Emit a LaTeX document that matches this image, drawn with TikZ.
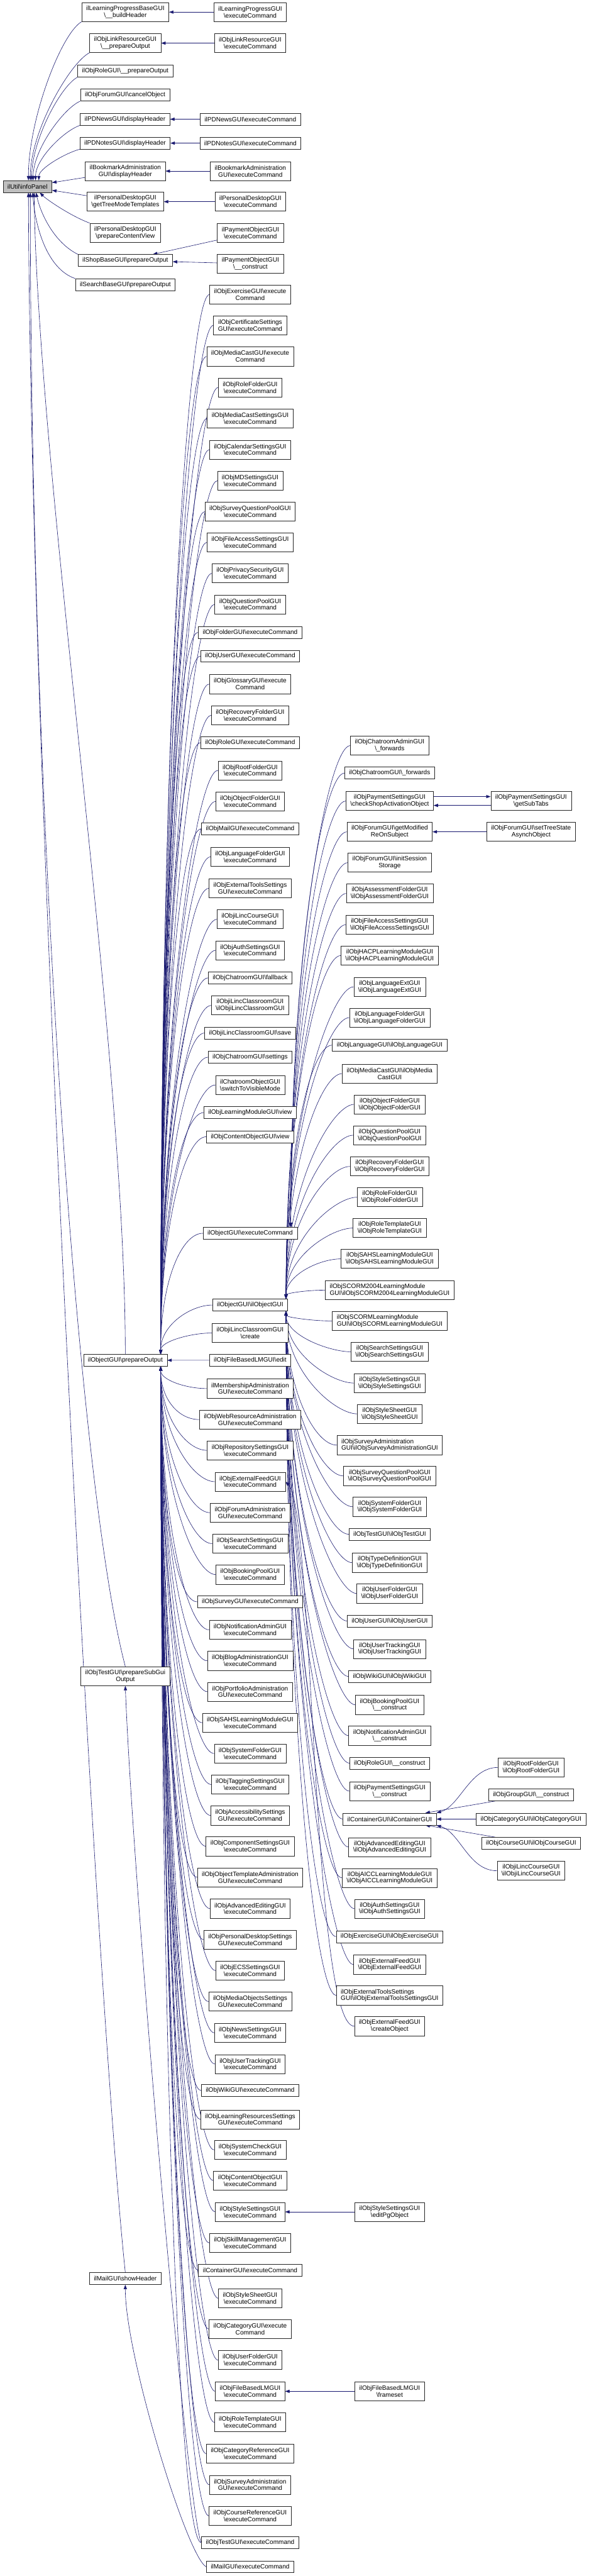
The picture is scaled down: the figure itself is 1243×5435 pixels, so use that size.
\documentclass[tikz,border=0pt]{standalone}
\usepackage{fontspec}
\setmainfont{Liberation Sans}
\usetikzlibrary{arrows.meta,calc}
\definecolor{edgeblue}{HTML}{191970}
\definecolor{rootgray}{HTML}{BFBFBF}
\newcommand{\bsl}{\textbackslash}
\newcommand{\fnfont}{\fontsize{10}{10.8}\selectfont}
\pgfdeclarelayer{bg}
\pgfdeclarelayer{edges}
\pgfsetlayers{bg,edges,main}
\tikzset{
  fn/.style={draw=black!85, fill=white, font=\fnfont, align=center,
    inner xsep=7pt, inner ysep=2pt, minimum height=18.75pt, line width=0.6pt},
  fn2/.style={fn, minimum height=30pt},
  fnl/.style={fn2, align=left},
  edge/.style={->, draw=edgeblue, line width=0.6pt}
}

\begin{document}
\begin{tikzpicture}[x=0.75pt, y=-0.75pt, >={Triangle[length=7pt,width=5pt]}]
  \begin{pgfonlayer}{bg}
    \fill[white] (0,0) rectangle (1243,5435);
  \end{pgfonlayer}
  \useasboundingbox (0,0) rectangle (1243,5435);
  % Root
  \node[fn, fill=rootgray] (info) at (58,393.5) {ilUtil\bsl infoPanel};
  % Direct callers
  \node[fn2] (lpbase) at (264.5,25.5) {ilLearningProgressBaseGUI\\\bsl\_\_buildHeader};
  \node[fn2] (linkpo) at (264.5,91) {ilObjLinkResourceGUI\\\bsl\_\_prepareOutput};
  \node[fn] (rolepo) at (264.5,150) {ilObjRoleGUI\bsl\_\_prepareOutput};
  \node[fn] (forumco) at (264,200.5) {ilObjForumGUI\bsl cancelObject};
  \node[fn] (pdnewsdh) at (264,251.5) {ilPDNewsGUI\bsl displayHeader};
  \node[fn] (pdnotesdh) at (264,302) {ilPDNotesGUI\bsl displayHeader};
  \node[fn2] (bookdh) at (264.5,361) {ilBookmarkAdministration\\GUI\bsl displayHeader};
  \node[fn2] (pdtree) at (264.5,425.5) {ilPersonalDesktopGUI\\\bsl getTreeModeTemplates};
  \node[fn2] (pdcontent) at (264.5,491) {ilPersonalDesktopGUI\\\bsl prepareContentView};
  \node[fn] (shop) at (264.5,549.5) {ilShopBaseGUI\bsl prepareOutput};
  \node[fn] (search) at (264.5,600.5) {ilSearchBaseGUI\bsl prepareOutput};
  \node[fn] (pout) at (264.5,2870) {ilObjectGUI\bsl prepareOutput};
  \node[fn2] (tsub) at (264.5,3536.5) {ilObjTestGUI\bsl prepareSubGui\\Output};
  \node[fn] (mhead) at (264.5,4807.5) {ilMailGUI\bsl showHeader};
  % Second level, top group
  \node[fn2] (lpgui) at (528,25.5) {ilLearningProgressGUI\\\bsl executeCommand};
  \node[fn2] (linkexec) at (528,91) {ilObjLinkResourceGUI\\\bsl executeCommand};
  \node[fn] (pdnewsexec) at (528.5,251.5) {ilPDNewsGUI\bsl executeCommand};
  \node[fn] (pdnotesexec) at (528.5,302) {ilPDNotesGUI\bsl executeCommand};
  \node[fn2] (bookexec) at (528.5,361) {ilBookmarkAdministration\\GUI\bsl executeCommand};
  \node[fn2] (pdexec) at (528.5,425.5) {ilPersonalDesktopGUI\\\bsl executeCommand};
  \node[fn2] (payexec) at (528.5,491) {ilPaymentObjectGUI\\\bsl executeCommand};
  \node[fn2] (paycon) at (528.5,556.5) {ilPaymentObjectGUI\\\bsl\_\_construct};
  % Second level, callers of prepareOutput
  \node[fn2] (exer) at (528,621.4) {ilObjExerciseGUI\bsl execute\\Command};
  \node[fn2] (cert) at (528,686.4) {ilObjCertificateSettings\\GUI\bsl executeCommand};
  \node[fn2] (mcast) at (528,752.1) {ilObjMediaCastGUI\bsl execute\\Command};
  \node[fn2] (rolef) at (528,817.5) {ilObjRoleFolderGUI\\\bsl executeCommand};
  \node[fn2] (mcset) at (528,882.9) {ilObjMediaCastSettingsGUI\\\bsl executeCommand};
  \node[fn2] (cal) at (528,948.6) {ilObjCalendarSettingsGUI\\\bsl executeCommand};
  \node[fn2] (md) at (528,1014.4) {ilObjMDSettingsGUI\\\bsl executeCommand};
  \node[fn2] (sqp) at (528,1079.4) {ilObjSurveyQuestionPoolGUI\\\bsl executeCommand};
  \node[fn2] (fas) at (528,1144.3) {ilObjFileAccessSettingsGUI\\\bsl executeCommand};
  \node[fn2] (priv) at (528,1209.7) {ilObjPrivacySecurityGUI\\\bsl executeCommand};
  \node[fn2] (qp) at (528,1275.1) {ilObjQuestionPoolGUI\\\bsl executeCommand};
  \node[fn] (fold) at (528,1334.1) {ilObjFolderGUI\bsl executeCommand};
  \node[fn] (user) at (528,1384.3) {ilObjUserGUI\bsl executeCommand};
  \node[fn2] (gloss) at (528,1443.3) {ilObjGlossaryGUI\bsl execute\\Command};
  \node[fn2] (recov) at (528,1509.1) {ilObjRecoveryFolderGUI\\\bsl executeCommand};
  \node[fn] (role) at (528,1566.8) {ilObjRoleGUI\bsl executeCommand};
  \node[fn2] (root) at (528,1625.4) {ilObjRootFolderGUI\\\bsl executeCommand};
  \node[fn2] (objf) at (528,1690.8) {ilObjObjectFolderGUI\\\bsl executeCommand};
  \node[fn] (mail) at (528,1748.6) {ilObjMailGUI\bsl executeCommand};
  \node[fn2] (langf) at (528,1807.6) {ilObjLanguageFolderGUI\\\bsl executeCommand};
  \node[fn2] (ext) at (528,1874.1) {ilObjExternalToolsSettings\\GUI\bsl executeCommand};
  \node[fn2] (ilcc) at (528,1939.5) {ilObjiLincCourseGUI\\\bsl executeCommand};
  \node[fn2] (auth) at (528,2004.9) {ilObjAuthSettingsGUI\\\bsl executeCommand};
  \node[fn] (chfb) at (528,2063.1) {ilObjChatroomGUI\bsl fallback};
  \node[fn2] (ilcl) at (528,2121.3) {ilObjiLincClassroomGUI\\\bsl ilObjiLincClassroomGUI};
  \node[fn] (ilsave) at (528,2179.5) {ilObjiLincClassroomGUI\bsl save};
  \node[fn] (chset) at (528,2230.5) {ilObjChatroomGUI\bsl settings};
  \node[fn2] (chvis) at (528,2289.1) {ilChatroomObjectGUI\\\bsl switchToVisibleMode};
  \node[fn] (lmview) at (528,2347.3) {ilObjLearningModuleGUI\bsl view};
  \node[fn] (coview) at (528,2398.3) {ilObjContentObjectGUI\bsl view};
  \node[fn] (oexec) at (528,2602) {ilObjectGUI\bsl executeCommand};
  \node[fn] (octor) at (528,2753.4) {ilObjectGUI\bsl ilObjectGUI};
  \node[fn2] (ilcreate) at (528,2812.4) {ilObjiLincClassroomGUI\\\bsl create};
  \node[fn] (fbedit) at (528,2869.8) {ilObjFileBasedLMGUI\bsl edit};
  \node[fn2] (memb) at (528,2929.6) {ilMembershipAdministration\\GUI\bsl executeCommand};
  \node[fn2] (webres) at (528,2995) {ilObjWebResourceAdministration\\GUI\bsl executeCommand};
  \node[fn2] (repo) at (528,3060) {ilObjRepositorySettingsGUI\\\bsl executeCommand};
  \node[fn2] (efexec) at (528,3126.1) {ilObjExternalFeedGUI\\\bsl executeCommand};
  \node[fn2] (forad) at (528,3191.5) {ilObjForumAdministration\\GUI\bsl executeCommand};
  \node[fn2] (srchset) at (528,3256.8) {ilObjSearchSettingsGUI\\\bsl executeCommand};
  \node[fn2] (book) at (528,3322.2) {ilObjBookingPoolGUI\\\bsl executeCommand};
  \node[fn] (survey) at (528,3379.6) {ilObjSurveyGUI\bsl executeCommand};
  \node[fn2] (notif) at (528,3438.6) {ilObjNotificationAdminGUI\\\bsl executeCommand};
  \node[fn2] (blog) at (528,3504) {ilObjBlogAdministrationGUI\\\bsl executeCommand};
  \node[fn2] (portf) at (528,3569.3) {ilObjPortfolioAdministration\\GUI\bsl executeCommand};
  \node[fn2] (sahs) at (528,3634.7) {ilObjSAHSLearningModuleGUI\\\bsl executeCommand};
  \node[fn2] (sysf) at (528,3699.7) {ilObjSystemFolderGUI\\\bsl executeCommand};
  \node[fn2] (tag) at (528,3765) {ilObjTaggingSettingsGUI\\\bsl executeCommand};
  \node[fn2] (acc) at (528,3830.4) {ilObjAccessibilitySettings\\GUI\bsl executeCommand};
  \node[fn2] (comp) at (528,3895.4) {ilObjComponentSettingsGUI\\\bsl executeCommand};
  \node[fn2] (otpl) at (528,3960.8) {ilObjObjectTemplateAdministration\\GUI\bsl executeCommand};
  \node[fn2] (adved) at (528,4026.9) {ilObjAdvancedEditingGUI\\\bsl executeCommand};
  \node[fn2] (pdset) at (528,4092.3) {ilObjPersonalDesktopSettings\\GUI\bsl executeCommand};
  \node[fn2] (ecs) at (528,4157.7) {ilObjECSSettingsGUI\\\bsl executeCommand};
  \node[fn2] (mob) at (528,4223) {ilObjMediaObjectsSettings\\GUI\bsl executeCommand};
  \node[fn2] (news) at (528,4289) {ilObjNewsSettingsGUI\\\bsl executeCommand};
  \node[fn2] (utrack) at (528,4354.8) {ilObjUserTrackingGUI\\\bsl executeCommand};
  \node[fn] (wiki) at (528,4410.7) {ilObjWikiGUI\bsl executeCommand};
  \node[fn2] (lres) at (528,4471.5) {ilObjLearningResourcesSettings\\GUI\bsl executeCommand};
  \node[fn2] (syscheck) at (528,4536) {ilObjSystemCheckGUI\\\bsl executeCommand};
  \node[fn2] (coexec) at (528,4600.8) {ilObjContentObjectGUI\\\bsl executeCommand};
  \node[fn2] (styexec) at (528,4666.7) {ilObjStyleSettingsGUI\\\bsl executeCommand};
  \node[fn2] (skill) at (528,4732.3) {ilObjSkillManagementGUI\\\bsl executeCommand};
  \node[fn] (contexec) at (528,4790.1) {ilContainerGUI\bsl executeCommand};
  \node[fn2] (sheet) at (528,4849) {ilObjStyleSheetGUI\\\bsl executeCommand};
  \node[fn2] (cat) at (528,4913.8) {ilObjCategoryGUI\bsl execute\\Command};
  \node[fn2] (ufold) at (528,4979.4) {ilObjUserFolderGUI\\\bsl executeCommand};
  \node[fn2] (fbexec) at (528,5045.3) {ilObjFileBasedLMGUI\\\bsl executeCommand};
  \node[fn2] (rtpl) at (528,5110.5) {ilObjRoleTemplateGUI\\\bsl executeCommand};
  \node[fn2] (catref) at (528,5176.8) {ilObjCategoryReferenceGUI\\\bsl executeCommand};
  \node[fn2] (surad) at (528,5242.4) {ilObjSurveyAdministration\\GUI\bsl executeCommand};
  \node[fn2] (crsref) at (528,5307.9) {ilObjCourseReferenceGUI\\\bsl executeCommand};
  \node[fn] (testexec) at (528,5364.6) {ilObjTestGUI\bsl executeCommand};
  \node[fn] (mailexec) at (528,5415.5) {ilMailGUI\bsl executeCommand};
  % Third level
  \node[fn2] (chadm) at (822.5,1573) {ilObjChatroomAdminGUI\\\bsl\_forwards};
  \node[fn] (chfw) at (822.5,1631) {ilObjChatroomGUI\bsl\_forwards};
  \node[fn2] (psc) at (822.5,1690) {ilObjPaymentSettingsGUI\\\bsl checkShopActivationObject};
  \node[fn2] (fgm) at (822.5,1755) {ilObjForumGUI\bsl getModified\\ReOnSubject};
  \node[fn2] (fis) at (822.5,1820) {ilObjForumGUI\bsl initSession\\Storage};
  \node[fn2] (assf) at (822.5,1885) {ilObjAssessmentFolderGUI\\\bsl ilObjAssessmentFolderGUI};
  \node[fn2] (fasc) at (822.5,1951) {ilObjFileAccessSettingsGUI\\\bsl ilObjFileAccessSettingsGUI};
  \node[fn2] (hacp) at (822.5,2016) {ilObjHACPLearningModuleGUI\\\bsl ilObjHACPLearningModuleGUI};
  \node[fn2] (lext) at (822.5,2082) {ilObjLanguageExtGUI\\\bsl ilObjLanguageExtGUI};
  \node[fn2] (lfold) at (822.5,2147) {ilObjLanguageFolderGUI\\\bsl ilObjLanguageFolderGUI};
  \node[fn] (lang) at (822.5,2205) {ilObjLanguageGUI\bsl ilObjLanguageGUI};
  \node[fn2] (mcc) at (822.5,2265) {ilObjMediaCastGUI\bsl ilObjMedia\\CastGUI};
  \node[fn2] (ofc) at (822.5,2330) {ilObjObjectFolderGUI\\\bsl ilObjObjectFolderGUI};
  \node[fn2] (qpc) at (822.5,2395) {ilObjQuestionPoolGUI\\\bsl ilObjQuestionPoolGUI};
  \node[fn2] (rfc) at (822.5,2461) {ilObjRecoveryFolderGUI\\\bsl ilObjRecoveryFolderGUI};
  \node[fn2] (rolfc) at (822.5,2526) {ilObjRoleFolderGUI\\\bsl ilObjRoleFolderGUI};
  \node[fn2] (rtc) at (822.5,2591) {ilObjRoleTemplateGUI\\\bsl ilObjRoleTemplateGUI};
  \node[fn2] (sahsc) at (822.5,2656) {ilObjSAHSLearningModuleGUI\\\bsl ilObjSAHSLearningModuleGUI};
  \node[fnl] (s2004) at (822.5,2722) {ilObjSCORM2004LearningModule\\GUI\bsl ilObjSCORM2004LearningModuleGUI};
  \node[fnl] (scorm) at (822.5,2787) {ilObjSCORMLearningModule\\GUI\bsl ilObjSCORMLearningModuleGUI};
  \node[fn2] (ssc) at (822.5,2852) {ilObjSearchSettingsGUI\\\bsl ilObjSearchSettingsGUI};
  \node[fn2] (stsc) at (822.5,2918) {ilObjStyleSettingsGUI\\\bsl ilObjStyleSettingsGUI};
  \node[fn2] (shc) at (822.5,2983) {ilObjStyleSheetGUI\\\bsl ilObjStyleSheetGUI};
  \node[fnl] (sadc) at (822.5,3049) {ilObjSurveyAdministration\\GUI\bsl ilObjSurveyAdministrationGUI};
  \node[fn2] (sqpc) at (822.5,3114) {ilObjSurveyQuestionPoolGUI\\\bsl ilObjSurveyQuestionPoolGUI};
  \node[fn2] (sysc) at (822.5,3179) {ilObjSystemFolderGUI\\\bsl ilObjSystemFolderGUI};
  \node[fn] (testc) at (822.5,3237) {ilObjTestGUI\bsl ilObjTestGUI};
  \node[fn2] (tdc) at (822.5,3297) {ilObjTypeDefinitionGUI\\\bsl ilObjTypeDefinitionGUI};
  \node[fn2] (ufc) at (822.5,3362) {ilObjUserFolderGUI\\\bsl ilObjUserFolderGUI};
  \node[fn] (uc) at (822.5,3420) {ilObjUserGUI\bsl ilObjUserGUI};
  \node[fn2] (utc) at (822.5,3479) {ilObjUserTrackingGUI\\\bsl ilObjUserTrackingGUI};
  \node[fn] (wc) at (822.5,3537) {ilObjWikiGUI\bsl ilObjWikiGUI};
  \node[fn2] (bpc) at (822.5,3597) {ilObjBookingPoolGUI\\\bsl\_\_construct};
  \node[fn2] (nac) at (822.5,3662) {ilObjNotificationAdminGUI\\\bsl\_\_construct};
  \node[fn] (rgc) at (822.5,3720) {ilObjRoleGUI\bsl\_\_construct};
  \node[fn2] (psco) at (822.5,3779) {ilObjPaymentSettingsGUI\\\bsl\_\_construct};
  \node[fn] (cg) at (822.5,3838) {ilContainerGUI\bsl ilContainerGUI};
  \node[fn2] (aec) at (822.5,3897) {ilObjAdvancedEditingGUI\\\bsl ilObjAdvancedEditingGUI};
  \node[fn2] (aicc) at (822.5,3962) {ilObjAICCLearningModuleGUI\\\bsl ilObjAICCLearningModuleGUI};
  \node[fn2] (asc) at (822.5,4027) {ilObjAuthSettingsGUI\\\bsl ilObjAuthSettingsGUI};
  \node[fn] (exc) at (822.5,4086) {ilObjExerciseGUI\bsl ilObjExerciseGUI};
  \node[fn2] (efc) at (822.5,4145) {ilObjExternalFeedGUI\\\bsl ilObjExternalFeedGUI};
  \node[fnl] (etsc) at (822.5,4210) {ilObjExternalToolsSettings\\GUI\bsl ilObjExternalToolsSettingsGUI};
  \node[fn2] (efcr) at (822.5,4275) {ilObjExternalFeedGUI\\\bsl createObject};
  \node[fn2] (editpg) at (822.5,4666.7) {ilObjStyleSettingsGUI\\\bsl editPgObject};
  \node[fn2] (frames) at (822.5,5045.3) {ilObjFileBasedLMGUI\\\bsl frameset};
  % Fourth level
  \node[fn2] (pst) at (1121,1690) {ilObjPaymentSettingsGUI\\\bsl getSubTabs};
  \node[fn2] (fst) at (1121,1755) {ilObjForumGUI\bsl setTreeState\\AsynchObject};
  \node[fn2] (rootc) at (1121,3729) {ilObjRootFolderGUI\\\bsl ilObjRootFolderGUI};
  \node[fn] (grpc) at (1121,3787) {ilObjGroupGUI\bsl\_\_construct};
  \node[fn] (catc) at (1121,3838) {ilObjCategoryGUI\bsl ilObjCategoryGUI};
  \node[fn] (crsc) at (1121,3889) {ilObjCourseGUI\bsl ilObjCourseGUI};
  \node[fn2] (ilcrsc) at (1121,3947) {ilObjiLincCourseGUI\\\bsl ilObjiLincCourseGUI};

  \coordinate (ptop) at ($(pout.north east)+(-14,0)$);
  \coordinate (pbot) at ($(pout.south east)+(-14,0)$);
  \coordinate (etop) at ($(oexec.north east)+(-14,0)$);
  \coordinate (otop) at ($(octor.north east)+(-4,0)$);
  \coordinate (obot) at ($(octor.south east)+(-4,0)$);

  \begin{pgfonlayer}{edges}
  % Into the root
  \draw[edge] (lpbase.south west) .. controls +(-43,25) and +(0,-130) .. ($(info.north)+(2,0)$);
  \draw[edge] (linkpo.south west) .. controls +(-40,20) and +(0,-105) .. ($(info.north)+(6,0)$);
  \draw[edge] (rolepo.south west) .. controls +(-35,18) and +(0,-85) .. ($(info.north)+(9,0)$);
  \draw[edge] (forumco.south west) .. controls +(-35,15) and +(0,-65) .. ($(info.north)+(12,0)$);
  \draw[edge] (pdnewsdh.south west) .. controls +(-35,12) and +(0,-45) .. ($(info.north)+(17,0)$);
  \draw[edge] (pdnotesdh.south west) .. controls +(-30,8) and +(0,-25) .. ($(info.north)+(24,0)$);
  \draw[edge] (bookdh) -- (info);
  \draw[edge] (pdtree) -- (info);
  \draw[edge] (pdcontent.north west) .. controls +(-40,-15) and +(15,15) .. ($(info.south)+(26,0)$);
  \draw[edge] (shop.north west) .. controls +(-50,-25) and +(10,45) .. ($(info.south)+(18,0)$);
  \draw[edge] (search.north west) .. controls +(-60,-20) and +(5,70) .. ($(info.south)+(11,0)$);
  \draw[edge] (pout.north) .. controls +(0,-650) and +(8,600) .. ($(info.south)+(14,0)$);
  \draw[edge] (tsub.north) .. controls +(-100,-380) and +(0,1300) .. ($(info.south)+(6,0)$);
  \draw[edge] (mhead.north) .. controls +(-63,-600) and +(4,1200) .. ($(info.south)+(2,0)$);
  % Top group
  \draw[edge] (lpgui) -- (lpbase);
  \draw[edge] (linkexec) -- (linkpo);
  \draw[edge] (pdnewsexec) -- (pdnewsdh);
  \draw[edge] (pdnotesexec) -- (pdnotesdh);
  \draw[edge] (bookexec) -- (bookdh);
  \draw[edge] (pdexec) -- (pdtree);
  \draw[edge] (payexec) -- (shop);
  \draw[edge] (paycon) -- (shop);
  % Fan into ilObjectGUI::prepareOutput
  \foreach \nm in {exer,cert,mcast,rolef,mcset,cal,md,sqp,fas,priv,qp,fold,user,gloss,recov,role,root,objf,mail,langf,ext,ilcc,auth,chfb,ilcl,ilsave,chset,chvis,lmview,coview,oexec,octor,ilcreate}
    \draw[edge] (\nm.west) .. controls +(-45,0) and ($(ptop)!.6!(ptop |- \nm.west)$) .. (ptop);
  \draw[edge] (fbedit) -- (pout);
  \foreach \nm in {memb,webres,repo,efexec,forad,srchset,book,survey,notif,blog,portf,sahs,sysf,tag,acc,comp,otpl,adved,pdset,ecs,mob,news,utrack,wiki,lres,syscheck,coexec,styexec,skill,contexec,sheet,cat,ufold,fbexec,rtpl,catref,surad,crsref,testexec}
    \draw[edge] (\nm.west) .. controls +(-45,0) and ($(pbot)!.6!(pbot |- \nm.west)$) .. (pbot);
  \draw[edge] (testexec.west) .. controls +(-30,-60) and +(15,400) .. (tsub.south);
  \draw[edge] (mailexec.west) .. controls +(-40,-20) and +(0,150) .. (mhead.south);
  % Fan into ilObjectGUI::executeCommand and the constructor
  \foreach \nm in {chadm,chfw,psc,fgm,fis}
    \draw[edge] (\nm.west) .. controls +(-45,0) and ($(etop)!.6!(etop |- \nm.west)$) .. (etop);
  \foreach \nm in {assf,fasc,hacp,lext,lfold,lang,mcc,ofc,qpc,rfc,rolfc,rtc,sahsc,s2004}
    \draw[edge] (\nm.west) .. controls +(-45,0) and ($(otop)!.6!(otop |- \nm.west)$) .. (otop);
  \foreach \nm in {scorm,ssc,stsc,shc,sadc,sqpc,sysc,testc,tdc,ufc,uc,utc,wc,bpc,nac,rgc,psco,cg,aec,aicc,asc,exc,efc,etsc}
    \draw[edge] (\nm.west) .. controls +(-45,0) and ($(obot)!.6!(obot |- \nm.west)$) .. (obot);
  \draw[edge] (efcr.west) .. controls +(-90,0) and +(60,60) .. (efexec.east);
  \draw[edge] (editpg) -- (styexec);
  \draw[edge] (frames) -- (fbexec);
  % Right side
  \draw[edge] ([yshift=7pt]psc.east) -- ([yshift=7pt]pst.west);
  \draw[edge] ([yshift=-7pt]pst.west) -- ([yshift=-7pt]psc.east);
  \draw[edge] (fst) -- (fgm);
  \draw[edge] (rootc.west) .. controls +(-60,0) and +(50,-15) .. (cg.north east);
  \draw[edge] (grpc) -- (cg);
  \draw[edge] (catc) -- (cg);
  \draw[edge] (crsc) -- (cg);
  \draw[edge] (ilcrsc.west) .. controls +(-60,0) and +(50,15) .. (cg.south east);
  \end{pgfonlayer}
\end{tikzpicture}
\end{document}
